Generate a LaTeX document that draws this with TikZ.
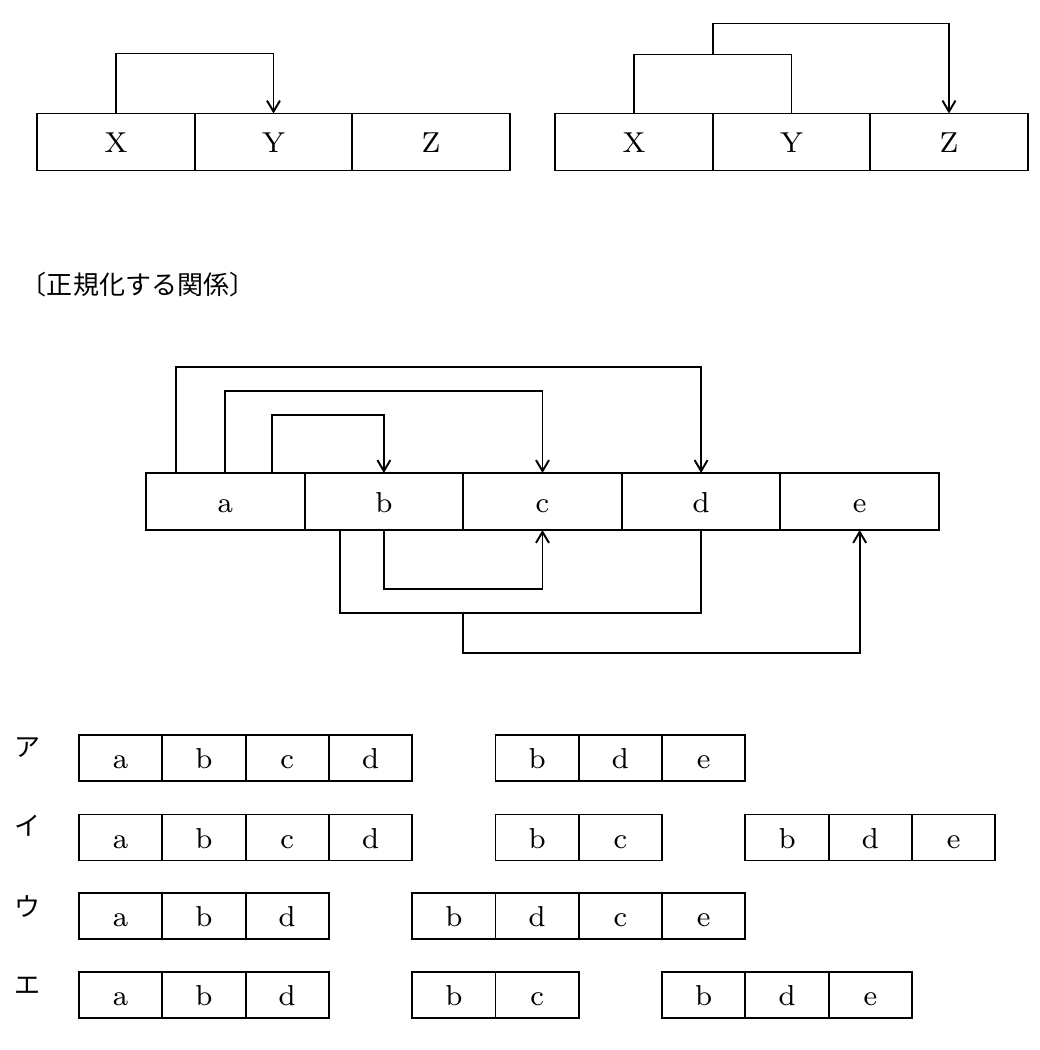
\documentclass[tikz,border=0pt]{standalone}
\usepackage{fontspec}
\newfontfamily\jafont{Noto Sans CJK JP}
\usetikzlibrary{arrows.meta}

\begin{document}
\begin{tikzpicture}[x=0.01cm,y=0.01cm,>={Straight Barb[length=1.1mm,width=1.3mm]},line width=0.55pt,
    cell/.style={draw=black,minimum width=1.575cm,minimum height=0.57cm,inner sep=0pt,outer sep=0pt,
      text height=1.6ex,text depth=0.2ex,font=\fontsize{8.2}{9}\selectfont},
    wide/.style={cell,minimum width=1.586cm},
    small/.style={cell,minimum width=0.833cm,minimum height=0.46cm},
    kana/.style={inner sep=0pt,font=\jafont\fontsize{7.4}{9}\selectfont}]
                \useasboundingbox (0,0) rectangle (1040,1050);
                % X -> Y
                \node[cell](X)at(116, 908){X};
                \node[cell](Y)at(273.5, 908){Y};
                \node[cell](Z)at(431, 908){Z};
                \draw[->](X.north) -- ++(0,60) -| (Y.north);
                % X,Y -> Z
                \node[cell](X2)at(634, 908){X};
                \node[cell](Y2)at(791.5, 908){Y};
                \node[cell](Z2)at(949, 908){Z};
                \draw(X2.north) -- ++(0,59) -| coordinate[pos=0.25](XYmid) (Y2.north);
                \draw[->](XYmid) -- ++(0,31) -| (Z2.north);
                \node[kana,anchor=west](title)at(20, 765){〔正規化する関係〕};
                % relation a..e
                \node[wide](a)at(225.3, 548.5){a};
                \node[wide](b)at(383.9, 548.5){b};
                \node[wide](c)at(542.5, 548.5){c};
                \node[wide](d)at(701.1, 548.5){d};
                \node[wide](e)at(859.7, 548.5){e};
                \draw[->](a.north) ++(-49,0) -- ++(0,106) -| (d.north);
                \draw[->](a.north) -- ++(0,82) -| (c.north);
                \draw[->](a.north) ++(47,0) -- ++(0,58) -| (b.north);
                \draw[->](b.south) -- ++(0,-59) -| (c.south);
                \draw(b.south) ++(-44,0) -- ++(0,-83) coordinate(bdlow) -| (d.south);
                \draw[->](bdlow -| b.east) -- ++(0,-40) -| (e.south);
                % choice A
                \node[kana](kA)at(28, 302){ア};
                \node[small](A1a)at(120.65, 292){a};
                \node[small](A1b)at(203.95, 292){b};
                \node[small](A1c)at(287.25, 292){c};
                \node[small](A1d)at(370.55, 292){d};
                \node[small](A2b)at(537.15, 292){b};
                \node[small](A2d)at(620.45, 292){d};
                \node[small](A2e)at(703.75, 292){e};
                % choice I
                \node[kana](kI)at(28, 224){イ};
                \node[small](I1a)at(120.65, 212.5){a};
                \node[small](I1b)at(203.95, 212.5){b};
                \node[small](I1c)at(287.25, 212.5){c};
                \node[small](I1d)at(370.55, 212.5){d};
                \node[small](I2b)at(537.15, 212.5){b};
                \node[small](I2c)at(620.45, 212.5){c};
                \node[small](I3b)at(787.05, 212.5){b};
                \node[small](I3d)at(870.35, 212.5){d};
                \node[small](I3e)at(953.65, 212.5){e};
                % choice U
                \node[kana](kU)at(28, 143){ウ};
                \node[small](U1a)at(120.65, 134){a};
                \node[small](U1b)at(203.95, 134){b};
                \node[small](U1d)at(287.25, 134){d};
                \node[small](U2b)at(453.85, 134){b};
                \node[small](U2d)at(537.15, 134){d};
                \node[small](U2c)at(620.45, 134){c};
                \node[small](U2e)at(703.75, 134){e};
                % choice E
                \node[kana](kE)at(28, 64){エ};
                \node[small](E1a)at(120.65, 55){a};
                \node[small](E1b)at(203.95, 55){b};
                \node[small](E1d)at(287.25, 55){d};
                \node[small](E2b)at(453.85, 55){b};
                \node[small](E2c)at(537.15, 55){c};
                \node[small](E3b)at(703.75, 55){b};
                \node[small](E3d)at(787.05, 55){d};
                \node[small](E3e)at(870.35, 55){e};
            \end{tikzpicture}
\end{document}
